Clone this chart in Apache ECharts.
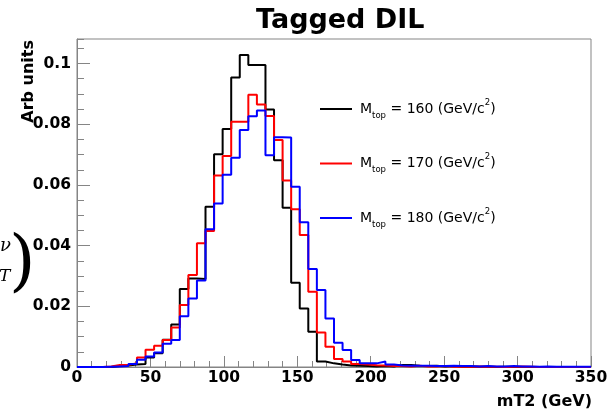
<!DOCTYPE html>
<html>
<head>
<meta charset="utf-8">
<script src="https://cdn.jsdelivr.net/npm/echarts@6.0.0/dist/echarts.min.js"></script>
<style>
html,body{margin:0;padding:0;background:#fff;}
#chart{width:612px;height:409px;}
</style>
</head>
<body>
<div id="chart"></div>
<script>
// Histogram binning (60 bins over 0-350 GeV)
const nBins = 60;
const xLo = 0;
const xHi = 350;

// Series values per bin (Arb units)
const black160 = [0,0,0,0,0.0003,0.0005,0.0008,0.0010,0.0031,0.0045,
  0.0090,0.0140,0.0257,0.0292,0.0290,0.0528,0.0701,0.0784,0.0954,0.1028,
  0.0995,0.0995,0.0849,0.0681,0.0525,0.0278,0.0193,0.0116,0.0018,0.0012,
  0.0008,0.0005,0.0004,0.0003,0.0002,0.0003,0.0002,0.0007,0.0007,0.0004,
  0.0003,0.0004,0.0002,0.0003,0.0001,0.0002,0.0001,0.0001,0,0.0001,
  0,0,0,0,0,0,0,0,0,0];
const red170 = [0,0,0,0.0002,0.0007,0.0007,0.0012,0.0031,0.0057,0.0070,
  0.0089,0.0130,0.0204,0.0303,0.0408,0.0448,0.0631,0.0695,0.0808,0.0808,
  0.0897,0.0865,0.0827,0.0748,0.0615,0.0520,0.0435,0.0248,0.0114,0.0067,
  0.0026,0.0018,0.0010,0.0008,0.0006,0.0005,0.0003,0.0003,0.0002,0.0004,
  0.0002,0.0002,0.0003,0.0001,0.0002,0.0001,0.0002,0.0001,0.0001,0,
  0.0001,0.0002,0.0001,0,0,0,0,0,0,0];
const blue180 = [0,0,0,0.0001,0.0002,0.0003,0.0010,0.0024,0.0035,0.0048,
  0.0077,0.0089,0.0167,0.0226,0.0285,0.0454,0.0539,0.0634,0.0690,0.0781,
  0.0826,0.0845,0.0698,0.0757,0.0756,0.0594,0.0477,0.0323,0.0254,0.0160,
  0.0080,0.0056,0.0023,0.0012,0.0012,0.0018,0.0008,0.0005,0.0004,0.0004,
  0.0004,0.0003,0.0003,0.0004,0.0003,0.0003,0.0002,0.0003,0.0002,0.0002,
  0.0003,0.0002,0.0002,0.0001,0.0002,0.0001,0.0001,0.0001,0.0001,0.0001];

const seriesNames = ['160','170','180'];
const seriesColors = ['#000000','#ff0000','#0000ff'];
const xTicks = [0,50,100,150,200,250,300,350];
const yTicks = [0,0.02,0.04,0.06,0.08,0.1];

const binW = (xHi - xLo) / nBins;
function toSteps(vals){
  const d = vals.map((v,i)=>[xLo + i*binW, v]);
  d.push([xHi, vals[vals.length-1]]);
  return d;
}

const chart = echarts.init(document.getElementById('chart'), null, {renderer:'canvas'});
const axisGray = '#858585';
const labelFont = {fontFamily:'DejaVu Sans', fontWeight:'bold', fontSize:15.5, color:'#000'};

chart.setOption({
  animation:false,
  backgroundColor:'#fff',
  title:{
    text:'Tagged DIL', left:251, top:2,
    textStyle:{fontFamily:'DejaVu Sans', fontWeight:'bold', fontSize:27, color:'#000'}
  },
  grid:{left:77, right:21, top:39, bottom:42, show:true, borderColor:axisGray, borderWidth:1, backgroundColor:'transparent'},
  legend:{
    orient:'vertical', left:320, top:98, itemGap:32.5, padding:0,
    itemWidth:32, itemHeight:2, icon:'rect',
    data:seriesNames.map((n,i)=>({name:n, icon:'rect', itemStyle:{color:seriesColors[i]}})),
    formatter:function(n){ return '{m|M}{s|top}{m| = '+n+' (GeV/c}{p|2}{m|)}'; },
    textStyle:{
      padding:[0,0,0,3],
      rich:{
        m:{fontFamily:'DejaVu Sans', fontSize:14, color:'#000', lineHeight:22},
        s:{fontFamily:'DejaVu Sans', fontSize:8.5, color:'#000', lineHeight:9, verticalAlign:'bottom'},
        p:{fontFamily:'DejaVu Sans', fontSize:8.5, color:'#000', lineHeight:9, verticalAlign:'top'}
      }
    }
  },
  xAxis:{
    type:'value', min:xLo, max:xHi, interval:50,
    axisLine:{show:true, lineStyle:{color:axisGray, width:1}},
    axisTick:{show:true, inside:true, length:11, lineStyle:{color:axisGray}},
    minorTick:{show:true, splitNumber:5, length:6, lineStyle:{color:axisGray}},
    splitLine:{show:false},
    axisLabel:Object.assign({margin:3, formatter:function(v){return xTicks.indexOf(v)>=0?String(v):'';}}, labelFont)
  },
  yAxis:[{
    type:'value', min:0, max:0.1081, interval:0.02,
    axisLine:{show:true, lineStyle:{color:axisGray, width:1}},
    axisTick:{show:true, inside:true, length:13, lineStyle:{color:axisGray}},
    splitLine:{show:false},
    axisLabel:Object.assign({margin:6, showMaxLabel:false, formatter:function(v){
      const k = yTicks.findIndex(t=>Math.abs(t-v)<1e-9);
      return k>=0 ? String(+yTicks[k].toFixed(2)) : '';
    }}, labelFont)
  },{
    type:'value', min:0, max:0.1081, interval:0.005, position:'left',
    axisLine:{show:false},
    axisTick:{show:true, inside:true, length:7, lineStyle:{color:axisGray}},
    splitLine:{show:false},
    axisLabel:{show:false}
  }],
  graphic:[
    {type:'text', x:29, y:40, rotation:Math.PI/2,
      style:{text:'Arb units', fontFamily:'DejaVu Sans', fontWeight:'bold', fontSize:16, fill:'#000', align:'right', verticalAlign:'middle'}},
    {type:'text', x:592, y:394,
      style:{text:'mT2 (GeV)', fontFamily:'DejaVu Sans', fontWeight:'bold', fontSize:16, fill:'#000', align:'right', verticalAlign:'top'}},
    {type:'text', x:0, y:246,
      style:{text:'\u03bd', fontFamily:'DejaVu Serif', fontStyle:'italic', fontSize:18, fill:'#000', align:'left', verticalAlign:'middle'}},
    {type:'text', x:-1, y:277,
      style:{text:'T', fontFamily:'DejaVu Serif', fontStyle:'italic', fontSize:17, fill:'#000', align:'left', verticalAlign:'middle'}},
    {type:'text', x:9, y:265,
      style:{text:')', fontFamily:'DejaVu Serif', fontSize:68, fill:'#000', align:'left', verticalAlign:'middle'}}
  ],
  series:[
    {name:seriesNames[0], type:'line', step:'end', symbol:'none', data:toSteps(black160), lineStyle:{color:seriesColors[0], width:2}, itemStyle:{color:seriesColors[0]}, yAxisIndex:0},
    {name:seriesNames[1], type:'line', step:'end', symbol:'none', data:toSteps(red170), lineStyle:{color:seriesColors[1], width:2}, itemStyle:{color:seriesColors[1]}, yAxisIndex:0},
    {name:seriesNames[2], type:'line', step:'end', symbol:'none', data:toSteps(blue180), lineStyle:{color:seriesColors[2], width:2}, itemStyle:{color:seriesColors[2]}, yAxisIndex:0}
  ]
});
</script>
</body>
</html>
